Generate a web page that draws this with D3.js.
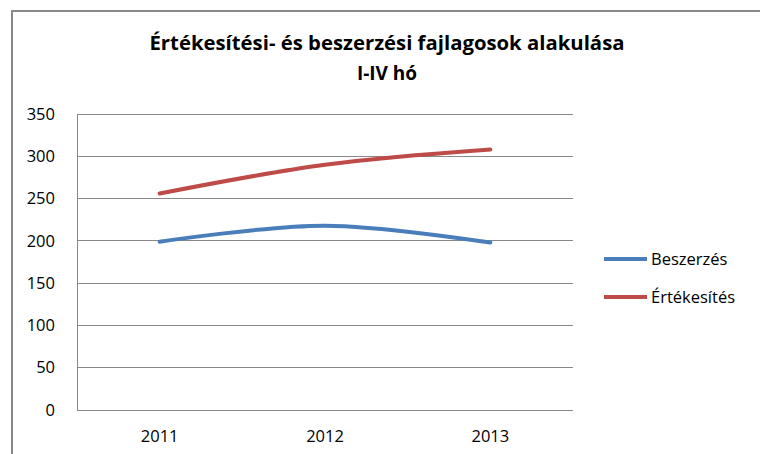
<!DOCTYPE html>
<html>
<head>
<meta charset="utf-8">
<script src="https://cdn.jsdelivr.net/npm/d3@7"></script>
<style>
  body { margin: 0; background: #fff; }
  text { font-family: "Open Sans", "Liberation Sans", sans-serif; fill: #000; }
</style>
</head>
<body>
<svg></svg>
<script>
/* data */
const years = ['2011', '2012', '2013'];
const beszerzes = [199, 218, 198];
const ertekesites = [256, 290, 308];
const seriesNames = ['Beszerzés', 'Értékesítés'];
const seriesColors = ['#4a7ebb', '#be4b48'];
const yTicks = [0, 50, 100, 150, 200, 250, 300, 350];

const width = 760, height = 454;
const plot = {L: 77, R: 573, T: 114, B: 410};
const labelFont = '"Open Sans", "Liberation Sans", sans-serif';

const svg = d3.select('svg').attr('width', width).attr('height', height);

/* chart border */
svg.append('rect')
  .attr('x', 12).attr('y', 11)
  .attr('width', 800).attr('height', 500)
  .attr('fill', 'none')
  .attr('stroke', '#888')
  .attr('stroke-width', 2);

/* title */
svg.append('text')
  .attr('x', 387).attr('y', 50)
  .attr('text-anchor', 'middle')
  .attr('font-size', 19).attr('font-weight', 'bold')
  .attr('textLength', 475).attr('lengthAdjust', 'spacingAndGlyphs')
  .text('Értékesítési- és beszerzési fajlagosok alakulása');
svg.append('text')
  .attr('x', 387).attr('y', 80)
  .attr('text-anchor', 'middle')
  .attr('font-size', 19).attr('font-weight', 'bold')
  .text('I-IV hó');

/* scales */
const x = d3.scaleBand().domain(years).range([plot.L, plot.R]);
const y = d3.scaleLinear().domain([0, 350]).range([plot.B, plot.T]);

/* grid */
svg.append('g').selectAll('line')
  .data(yTicks)
  .join('line')
  .attr('x1', plot.L).attr('x2', plot.R)
  .attr('y1', d => y(d)).attr('y2', d => y(d))
  .attr('stroke', '#888').attr('stroke-width', 1)
  .attr('shape-rendering', 'crispEdges');
svg.append('line')
  .attr('x1', plot.L).attr('x2', plot.L)
  .attr('y1', plot.T).attr('y2', plot.B)
  .attr('stroke', '#888').attr('shape-rendering', 'crispEdges');

/* axes */
const yAxis = svg.append('g')
  .attr('transform', `translate(${plot.L},0)`)
  .call(d3.axisLeft(y).tickValues(yTicks).tickSize(0).tickPadding(22));
yAxis.select('.domain').remove();
yAxis.selectAll('text').attr('font-size', 16.5).attr('fill', '#111')
  .style('font-family', labelFont);

const xAxis = svg.append('g')
  .attr('transform', `translate(0,${plot.B})`)
  .call(d3.axisBottom(x).tickSize(0).tickPadding(20));
xAxis.select('.domain').remove();
xAxis.selectAll('text').attr('font-size', 16.5).attr('fill', '#111')
  .style('font-family', labelFont);

/* lines */
const line = d3.line()
  .x((d, i) => x(years[i]) + x.bandwidth() / 2)
  .y(d => y(d))
  .curve(d3.curveCatmullRom.alpha(0.5));

[beszerzes, ertekesites].forEach(function (values, i) {
  svg.append('path')
    .datum(values)
    .attr('d', line)
    .attr('fill', 'none')
    .attr('stroke', seriesColors[i])
    .attr('stroke-width', 4)
    .attr('stroke-linecap', 'round');
});

/* legend */
const legend = svg.append('g').selectAll('g')
  .data(seriesNames)
  .join('g')
  .attr('transform', (d, i) => `translate(604,${259 + i * 38})`);
legend.append('line')
  .attr('x1', 0).attr('x2', 43)
  .attr('stroke', (d, i) => seriesColors[i])
  .attr('stroke-width', 4);
legend.append('text')
  .attr('x', 47).attr('y', 6)
  .attr('font-size', 16.5)
  .attr('fill', '#111')
  .text(d => d);
</script>
</body>
</html>
